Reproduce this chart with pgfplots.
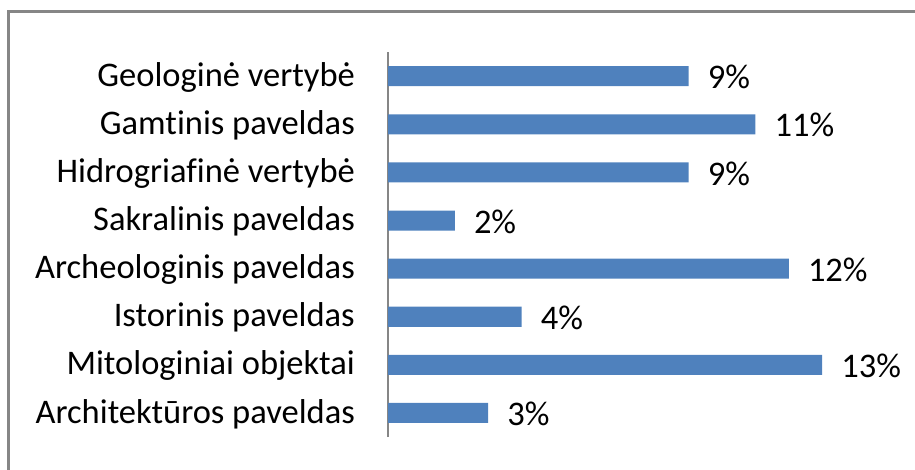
\documentclass[border=0pt]{standalone}
\usepackage{pgfplots}
\pgfplotsset{compat=1.18}
\usepackage{fontspec}
\setmainfont{Carlito}[Ligatures=NoCommon]
\definecolor{barblue}{HTML}{4F81BD}
\definecolor{framegray}{HTML}{868686}
\begin{document}
\begin{tikzpicture}[x=1pt,y=1pt]
\useasboundingbox (0,0) rectangle (915,-470);
\begin{scope}
\clip (0,0) rectangle (915,-470);
\draw[framegray, line width=3pt] (8.7,-11.8) rectangle (960,-520);
\end{scope}
\begin{axis}[
  at={(388pt,-437pt)}, anchor=south west,
  scale only axis,
  x=33.4pt, y=48.1pt,
  xmin=0, xmax=14, ymin=-0.5, ymax=7.5,
  axis x line=none,
  axis y line=left,
  y axis line style={framegray, line width=1.6pt, -},
  major tick length=0pt,
  ytick={0,1,2,3,4,5,6,7},
  yticklabels={Architektūros paveldas, Mitologiniai objektai, Istorinis paveldas, Archeologinis paveldas, Sakralinis paveldas, Hidrogriafinė vertybė, Gamtinis paveldas, Geologinė vertybė},
  yticklabel style={font=\fontsize{34.5}{38}\selectfont, anchor=east, inner sep=0pt, xshift=-33pt, yshift=-1pt},
  xbar, bar width=20pt,
  clip=false,
  /pgf/number format/assume math mode=true,
  nodes near coords={\pgfmathprintnumber{\pgfplotspointmeta}\%},
  nodes near coords align=horizontal,
  every node near coord/.append style={font=\fontsize{34.5}{38}\selectfont, anchor=west, inner sep=0pt, xshift=19pt, yshift=-1pt, black},
]
\addplot[fill=barblue, draw=none] coordinates {
  (3,0) (13,1) (4,2) (12,3) (2,4) (9,5) (11,6) (9,7)
};
\end{axis}
\end{tikzpicture}
\end{document}
